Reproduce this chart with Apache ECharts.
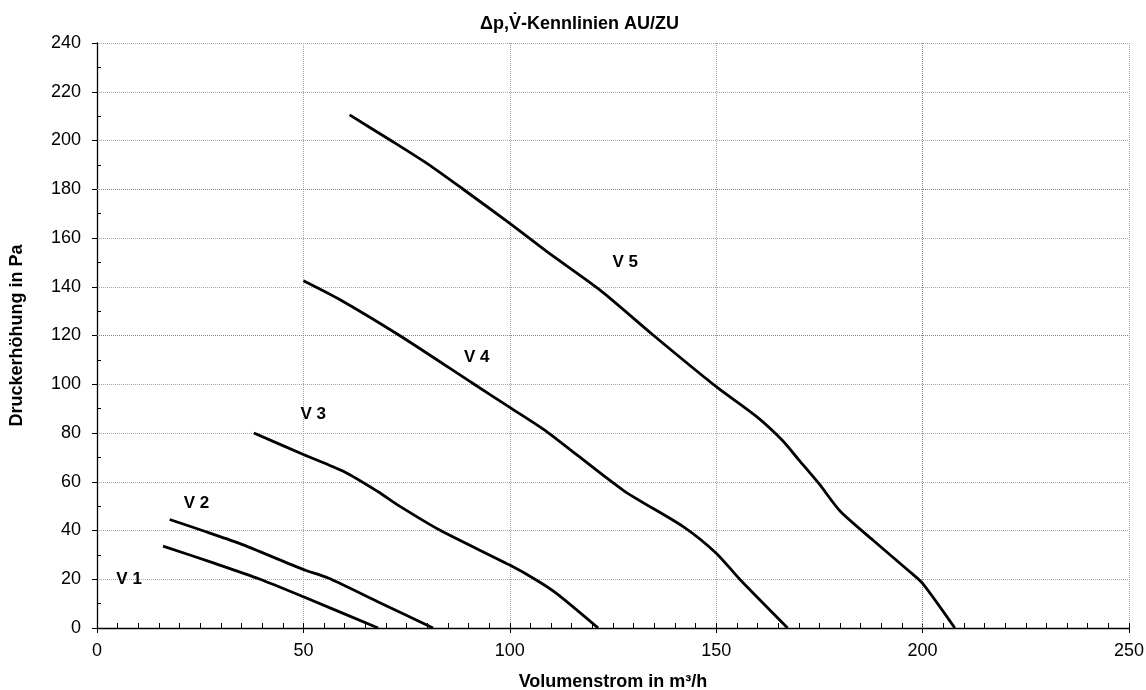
<!DOCTYPE html>
<html><head><meta charset="utf-8">
<script src="https://cdn.jsdelivr.net/npm/echarts@6/dist/echarts.min.js"></script>
<style>html,body{margin:0;padding:0;background:#fff}#c{width:1146px;height:690px}</style>
</head><body><div id="c"></div>
<script>
// ---- Data ----
const chartTitle = 'Δp,V\u0307-Kennlinien AU/ZU';
const xName = 'Volumenstrom in m³/h';
const yName = 'Druckerhöhung in Pa';

// [Volumenstrom m³/h, Druckerhöhung Pa]
const curveV1 = [[16,33.6],[28,26.8],[39.5,20],[50,12.8],[68.1,0]];
const curveV2 = [[17.6,44.5],[25,40.3],[34.5,34.7],[50,24],[56,20.5],[68,10.8],[81.4,0]];
const curveV3 = [[38,80],[50,71.2],[60,64],[68,56],[73.3,50],[83,40.2],[100,25.8],[106.4,19.7],[111.3,14.2],[121.4,0]];
const curveV4 = [[50,142.5],[59,134.6],[73.3,120],[91,100.4],[100,90.5],[109,80.5],[127.4,56.6],[142,41.6],[150,30.7],[155.7,20],[167.3,0]];
const curveV5 = [[61.2,210.5],[71,200.2],[80,190.5],[88.7,180],[100,166],[109,154.4],[121.8,138.7],[134.7,120.2],[150,99],[159.8,86.7],[166,77],[170,69],[175,59],[180,48],[188,36],[196.9,23.1],[200,18.3],[207.8,0]];

const curveNames = ['V 1','V 2','V 3','V 4','V 5'];
const curves = [curveV1, curveV2, curveV3, curveV4, curveV5];
// label anchor positions [x, y] in data units
const labelPos = [[7.9,19.9],[24.2,51.1],[52.5,87.4],[92.1,110.8],[128.1,149.7]];

const xMin = 0, xMax = 250, xStep = 50;
const yMin = 0, yMax = 240, yStep = 20;
const darkGridY = [120, 180];
const darkGridX = [200];

// ---- Chart ----
const FONT = "'Liberation Sans', Arial, sans-serif";
const chart = echarts.init(document.getElementById('c'), null, {renderer: 'canvas'});

const gridLine = {show: true, lineStyle: {color: '#a6a6a6', type: [1, 1], width: 1}};

const series = curves.map((d, i) => ({
  name: curveNames[i],
  type: 'line',
  data: d,
  xAxisIndex: 0, yAxisIndex: 0,
  showSymbol: false,
  symbol: 'none',
  smooth: 0.25,
  lineStyle: {color: '#000', width: 2.8},
  z: 5,
  silent: true
}));

series.push({
  type: 'scatter',
  xAxisIndex: 0, yAxisIndex: 0,
  symbolSize: 1,
  itemStyle: {color: 'rgba(0,0,0,0)', opacity: 1},
  data: labelPos.map((p, i) => ({value: p, name: curveNames[i]})),
  label: {
    show: true, position: [0, 0], align: 'center', verticalAlign: 'middle',
    formatter: '{b}', textBorderWidth: 0, opacity: 1,
    fontFamily: FONT, fontWeight: 'bold', fontSize: 17, color: '#000'
  },
  markLine: {
    silent: true, symbol: 'none', animation: false,
    label: {show: false},
    lineStyle: {color: '#858585', type: [1, 1], width: 1},
    data: darkGridY.map(v => ({yAxis: v})).concat(darkGridX.map(v => ({xAxis: v})))
  },
  z: 6,
  silent: true
});

chart.setOption({
  animation: false,
  backgroundColor: '#fff',
  title: {
    text: chartTitle,
    left: 480, top: 15, padding: 0,
    textStyle: {fontFamily: FONT, fontWeight: 'bold', fontSize: 18, color: '#000'}
  },
  grid: {left: 97, right: 17, top: 43, bottom: 62, containLabel: false, outerBoundsMode: 'none'},
  xAxis: [{
    type: 'value', min: xMin, max: xMax, interval: xStep,
    position: 'bottom',
    name: xName, nameLocation: 'middle', nameGap: 45,
    nameTextStyle: {fontFamily: FONT, fontWeight: 'bold', fontSize: 18, color: '#000'},
    axisLine: {show: true, lineStyle: {color: '#000', width: 1.3}},
    axisTick: {show: true, inside: false, length: 5, lineStyle: {color: '#000'}},
    axisLabel: {fontFamily: FONT, fontSize: 18, color: '#000', margin: 14},
    splitLine: gridLine
  }, {
    type: 'value', min: xMin, max: xMax, interval: xStep,
    position: 'bottom',
    axisLine: {show: false},
    axisTick: {show: true, inside: true, length: 5, lineStyle: {color: '#000'}},
    minorTick: {show: true, splitNumber: 10, length: 5, lineStyle: {color: '#000'}},
    axisLabel: {show: false},
    splitLine: {show: false}
  }],
  yAxis: [{
    type: 'value', min: yMin, max: yMax, interval: yStep,
    position: 'left',
    name: yName, nameLocation: 'middle', nameGap: 71, nameRotate: 90,
    nameTextStyle: {fontFamily: FONT, fontWeight: 'bold', fontSize: 18, color: '#000'},
    axisLine: {show: true, lineStyle: {color: '#000', width: 1.3}},
    axisTick: {show: true, inside: false, length: 5, lineStyle: {color: '#000'}},
    axisLabel: {fontFamily: FONT, fontSize: 18, color: '#000', margin: 16},
    splitLine: gridLine
  }, {
    type: 'value', min: yMin, max: yMax, interval: yStep,
    position: 'left',
    axisLine: {show: false},
    axisTick: {show: false, inside: true, length: 4},
    minorTick: {show: true, splitNumber: 2, length: 4, lineStyle: {color: '#000'}},
    axisLabel: {show: false},
    splitLine: {show: false}
  }],
  series: series
});
</script>
</body></html>
